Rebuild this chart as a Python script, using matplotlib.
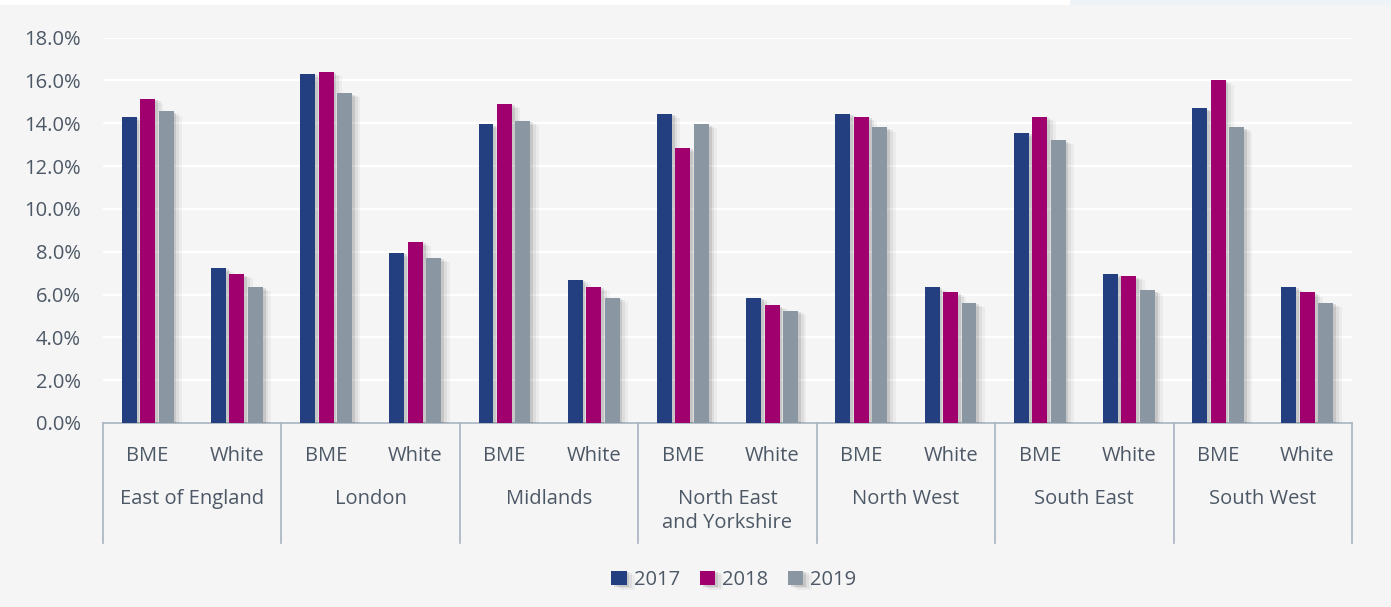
import matplotlib.pyplot as plt
import matplotlib.patheffects as pe
from matplotlib.patches import Rectangle
import numpy as np

plt.rcParams['font.family'] = ['Open Sans', 'DejaVu Sans']

regions = ['East of England', 'London', 'Midlands', 'North East\nand Yorkshire',
           'North West', 'South East', 'South West']
groups = ['BME', 'White']
years = ['2017', '2018', '2019']

# values per region: BME then White
v2017 = [14.3, 7.25, 16.3, 7.95, 13.95, 6.7, 14.45, 5.85, 14.45, 6.35, 13.55, 6.95, 14.7, 6.35]
v2018 = [15.15, 6.95, 16.4, 8.45, 14.9, 6.35, 12.85, 5.5, 14.3, 6.1, 14.3, 6.85, 16.0, 6.1]
v2019 = [14.55, 6.35, 15.4, 7.7, 14.1, 5.85, 13.95, 5.25, 13.8, 5.6, 13.2, 6.2, 13.8, 5.6]

COLORS = ['#233f80', '#a0006e', '#8a96a2']
TXT = '#4d5866'
BG = '#f5f5f5'
LINE = '#a8b4c0'
FS = 14.5

fig = plt.figure(figsize=(13.91, 6.07), dpi=100)
fig.patch.set_facecolor(BG)
# top strip
fig.patches.append(Rectangle((0, 1 - 5 / 607), 1, 5 / 607, transform=fig.transFigure,
                             facecolor='white', edgecolor='none', zorder=0))
fig.patches.append(Rectangle((1070 / 1391, 1 - 5 / 607), 1, 5 / 607, transform=fig.transFigure,
                             facecolor='#eef3f8', edgecolor='none', zorder=0))

ax = fig.add_axes([103 / 1391, 184 / 607, (1352 - 103) / 1391, (423 - 37.5) / 607])
ax.set_facecolor(BG)

x = np.arange(len(v2017))
w = 0.168
pitch = 0.207
shadow = [pe.SimplePatchShadow(offset=(6, -3), shadow_rgbFace='#000000', alpha=0.04),
          pe.SimplePatchShadow(offset=(4, -2), shadow_rgbFace='#000000', alpha=0.06),
          pe.SimplePatchShadow(offset=(2, -1), shadow_rgbFace='#000000', alpha=0.1),
          pe.Normal()]
for i, (vals, c, yr) in enumerate(zip([v2017, v2018, v2019], COLORS, years)):
    bars = ax.bar(x + (i - 1) * pitch, vals, width=w, color=c, label=yr, zorder=3)
    for b in bars:
        b.set_path_effects(shadow)

ax.set_ylim(0, 18)
ax.set_xlim(-0.5, len(x) - 0.5)
ax.set_yticks(np.arange(0, 19, 2))
ax.set_yticklabels(['%.1f%%' % t for t in np.arange(0, 19, 2)], fontsize=FS, color=TXT)
ax.tick_params(axis='y', length=0, pad=16)
ax.set_xticks([])
ax.grid(axis='y', color='white', linewidth=1.6, zorder=0)
for s in ['top', 'right', 'left']:
    ax.spines[s].set_visible(False)
ax.spines['bottom'].set_color(LINE)
ax.spines['bottom'].set_linewidth(1.2)

tr = ax.get_xaxis_transform()
h = 385.5
for k in range(len(regions) + 1):
    ax.plot([k * 2 - 0.5] * 2, [0, -120 / h], color=LINE, linewidth=1.2,
            transform=tr, clip_on=False)
for j in x:
    ax.text(j, -33 / h, groups[j % 2], transform=tr, ha='center', va='center',
            fontsize=FS, color=TXT)
for k, r in enumerate(regions):
    yy = -88 / h if '\n' in r else -76 / h
    ax.text(2 * k + 0.5, yy, r, transform=tr, ha='center', va='center',
            fontsize=FS, color=TXT, linespacing=1.3)

leg = fig.legend(loc='center', bbox_to_anchor=(734 / 1391, 1 - 580 / 607), ncol=3,
                 frameon=False, fontsize=FS, handlelength=0.75, handleheight=0.75,
                 columnspacing=1.0, handletextpad=0.35)
for t in leg.get_texts():
    t.set_color(TXT)

fig.savefig('out.png', dpi=100, facecolor=BG)
